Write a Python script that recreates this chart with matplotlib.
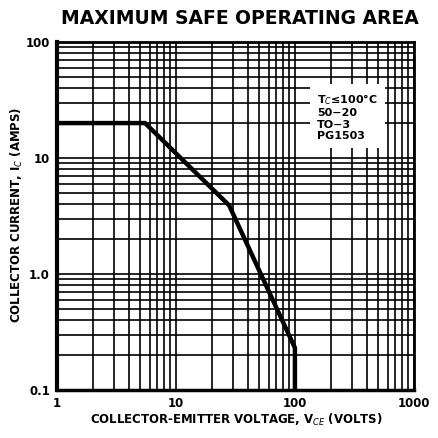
import matplotlib
matplotlib.use("Agg")
import matplotlib.pyplot as plt
from matplotlib.ticker import LogLocator, NullFormatter, FixedLocator, FixedFormatter

# Safe operating area boundary
vce = [1, 5.5, 28, 100, 100]
ic = [20, 20, 3.9, 0.23, 0.1]

x_ticks = [1, 10, 100, 1000]
x_labels = ["1", "10", "100", "1000"]
y_ticks = [0.1, 1, 10, 100]
y_labels = ["0.1", "1.0", "10", "100"]

note_lines = ["T$_C$≤100°C", "50−20", "TO−3", "PG1503"]

plt.rcParams['font.family'] = ['DejaVu Sans']

fig = plt.figure(figsize=(4.38, 4.38), dpi=100)
ax = fig.add_axes([0.130, 0.110, 0.815, 0.794])
ax.set_xscale('log')
ax.set_yscale('log')
ax.set_xlim(1, 1000)
ax.set_ylim(0.1, 100)

ax.xaxis.set_major_locator(FixedLocator(x_ticks))
ax.xaxis.set_major_formatter(FixedFormatter(x_labels))
ax.yaxis.set_major_locator(FixedLocator(y_ticks))
ax.yaxis.set_major_formatter(FixedFormatter(y_labels))
ax.xaxis.set_minor_locator(LogLocator(base=10, subs=range(2, 10)))
ax.yaxis.set_minor_locator(LogLocator(base=10, subs=range(2, 10)))
ax.xaxis.set_minor_formatter(NullFormatter())
ax.yaxis.set_minor_formatter(NullFormatter())

ax.grid(True, which='both', color='black', linewidth=1.2)
ax.tick_params(which='both', length=0, labelsize=8.5, pad=5)
for lab in ax.get_xticklabels() + ax.get_yticklabels():
    lab.set_fontweight('bold')

for side, lw in [('left', 3), ('bottom', 2.5), ('top', 2), ('right', 2)]:
    ax.spines[side].set_linewidth(lw)

ax.plot(vce, ic, color='black', linewidth=3.2, solid_joinstyle='miter', zorder=5)

ax.text(0.728, 0.855, "\n".join(note_lines), transform=ax.transAxes,
        fontsize=8, fontweight='bold', va='top', ha='left', linespacing=1.15,
        bbox=dict(facecolor='white', edgecolor='none', pad=5), zorder=6)

fig.text(0.548, 0.958, "MAXIMUM SAFE OPERATING AREA", ha='center', va='center',
         fontsize=13.5, fontweight='bold')
fig.text(0.54, 0.042, "COLLECTOR-EMITTER VOLTAGE, V$_{CE}$ (VOLTS)",
         ha='center', va='center', fontsize=8.5, fontweight='bold')
fig.text(0.038, 0.51, "COLLECTOR CURRENT, I$_C$ (AMPS)", rotation=90,
         ha='center', va='center', fontsize=8.5, fontweight='bold')

fig.savefig("out.png", dpi=100, facecolor='white')
